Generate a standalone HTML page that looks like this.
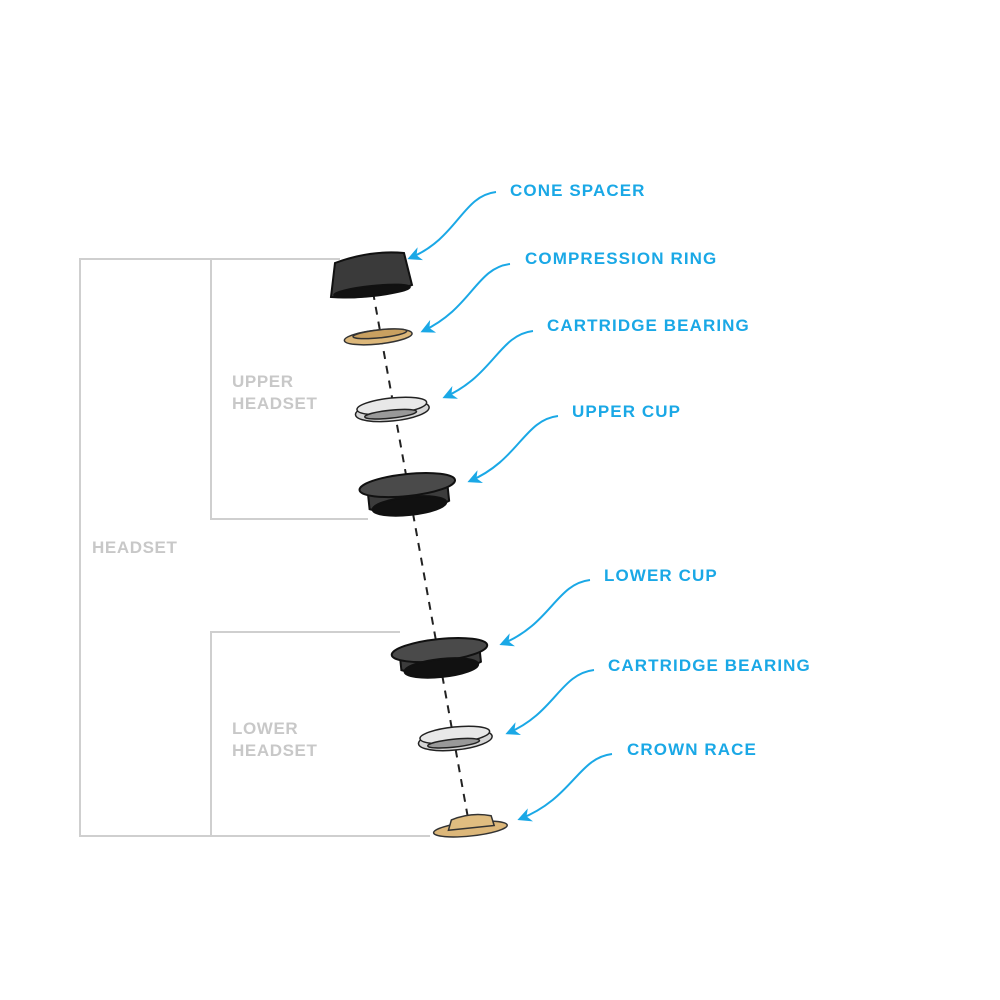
<!DOCTYPE html>
<html><head><style>
body{margin:0;background:#fff}
svg{display:block}
.l{font-family:"Liberation Sans",sans-serif;font-weight:bold;font-size:17px;letter-spacing:1.1px;fill:#1aa8e6}
.g{font-family:"Liberation Sans",sans-serif;font-weight:bold;font-size:17px;letter-spacing:0.6px;fill:#c8c8c8}
.a{fill:none;stroke:#1aa8e6;stroke-width:2}
</style></head><body>
<svg width="1000" height="1000" viewBox="0 0 1000 1000">
<defs><marker id="m" viewBox="0 0 10 10" refX="8" refY="5" markerWidth="7" markerHeight="7" orient="auto-start-reverse"><path d="M0,0 L10,5 L0,10 L3,5 z" fill="#1aa8e6"/></marker></defs>
<g stroke="#cfcfcf" stroke-width="2" fill="none">
<path d="M340,259 H80 V836 H430"/>
<path d="M330,259 H211 V519 H368"/>
<path d="M400,632 H211 V836"/>
</g>
<text class="g" x="232" y="387">UPPER</text><text class="g" x="232" y="409">HEADSET</text>
<text class="g" x="92" y="553">HEADSET</text>
<text class="g" x="232" y="734">LOWER</text><text class="g" x="232" y="756">HEADSET</text>
<line x1="373" y1="292" x2="468" y2="818" stroke="#222" stroke-width="2" stroke-dasharray="8,7"/>
<!-- cone spacer -->
<g stroke="#111" stroke-width="2">
<path d="M335,263 Q370,250 404,253 L412,285 Q372,300 331,297 Z" fill="#3a3a3a"/>
<ellipse cx="372" cy="291" rx="38" ry="5" transform="rotate(-6 372 291)" fill="#111"/>
</g>
<!-- compression ring -->
<g transform="rotate(-6 378 335)" stroke="#333" stroke-width="1.5">
<ellipse cx="378" cy="337" rx="34" ry="7" fill="#dcb77a"/>
<ellipse cx="380" cy="334" rx="27" ry="4" fill="#c9a060"/>
</g>
<!-- bearing -->
<g transform="rotate(-6 392 408)" stroke="#222" stroke-width="1.5">
<ellipse cx="392" cy="411" rx="37" ry="10" fill="#d5d5d5"/>
<ellipse cx="392" cy="406" rx="35" ry="8" fill="#e8e8e8"/>
<ellipse cx="390" cy="414" rx="26" ry="4" fill="#999"/>
</g>
<!-- upper cup -->
<g transform="rotate(-6 408 492)" stroke="#111" stroke-width="2">
<path d="M368,490 L368,505 Q408,522 448,505 L448,485 Z" fill="#3c3c3c"/>
<ellipse cx="408" cy="485" rx="48" ry="11" fill="#4a4a4a"/>
<ellipse cx="408" cy="506" rx="37" ry="9" fill="#111"/>
</g>
<!-- lower cup -->
<g transform="rotate(-6 440 655)" stroke="#111" stroke-width="2">
<path d="M400,652 L400,666 Q440,683 480,666 L480,648 Z" fill="#3c3c3c"/>
<ellipse cx="440" cy="650" rx="48" ry="11" fill="#4a4a4a"/>
<ellipse cx="440" cy="668" rx="37" ry="9" fill="#111"/>
</g>
<!-- bearing 2 -->
<g transform="rotate(-6 455 737)" stroke="#222" stroke-width="1.5">
<ellipse cx="455" cy="740" rx="37" ry="10" fill="#d5d5d5"/>
<ellipse cx="455" cy="735" rx="35" ry="8" fill="#e8e8e8"/>
<ellipse cx="453" cy="743" rx="26" ry="4" fill="#999"/>
</g>
<!-- crown race -->
<g transform="rotate(-6 470 825)" stroke="#333" stroke-width="1.5">
<ellipse cx="470" cy="829" rx="37" ry="7" fill="#dcb77a"/>
<path d="M448,828 L452,818 Q472,812 492,818 L494,828 Z" fill="#e0bd80"/>
</g>
<text class="l" x="510" y="196">CONE SPACER</text>
<text class="l" x="525" y="264">COMPRESSION RING</text>
<text class="l" x="547" y="331">CARTRIDGE BEARING</text>
<text class="l" x="572" y="417">UPPER CUP</text>
<text class="l" x="604" y="581">LOWER CUP</text>
<text class="l" x="608" y="671">CARTRIDGE BEARING</text>
<text class="l" x="627" y="755">CROWN RACE</text>
<path class="a" marker-end="url(#m)" d="M496,192 C462,196 458,238 410,258"/>
<path class="a" marker-end="url(#m)" d="M510,264 C476,268 472,308 423,331"/>
<path class="a" marker-end="url(#m)" d="M533,331 C499,335 494,375 445,397"/>
<path class="a" marker-end="url(#m)" d="M558,416 C524,420 519,460 470,481"/>
<path class="a" marker-end="url(#m)" d="M590,580 C556,584 551,624 502,644"/>
<path class="a" marker-end="url(#m)" d="M594,670 C560,674 555,713 508,733"/>
<path class="a" marker-end="url(#m)" d="M612,754 C578,758 573,798 520,819"/>
</svg>
</body></html>
